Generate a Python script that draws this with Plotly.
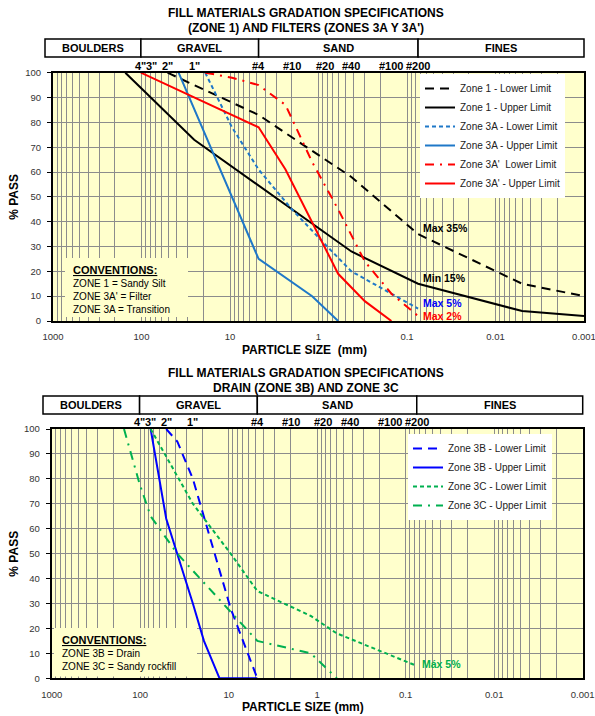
import math
import plotly.graph_objects as go

# ---------------- data ----------------
sieve_labels = ['4"', '3"', '2"', '1"', '#4', '#10', '#20', '#40', '#100', '#200']
sieve_sizes_mm = [101.6, 76.2, 50.8, 25.4, 4.75, 2.0, 0.85, 0.425, 0.15, 0.075]

soil_classes = ['BOULDERS', 'GRAVEL', 'SAND', 'FINES']
class_limits_mm = [101.6, 4.75, 0.075]   # boulders|gravel, gravel|sand, sand|fines

x_tick_vals = [1000, 100, 10, 1, 0.1, 0.01, 0.001]
x_tick_text = ['1000', '100', '10', '1', '0.1', '0.01', '0.001']
y_tick_vals = [0, 10, 20, 30, 40, 50, 60, 70, 80, 90, 100]

# Chart 1 : Zone 1 and filters 3A / 3A'
zone1_lower_size = [50.8, 4.75, 2.0, 0.425, 0.075, 0.005, 0.001]
zone1_lower_pct = [100, 83, 74, 58, 35, 15, 10]
zone1_upper_size = [152.4, 25.4, 0.425, 0.075, 0.005, 0.001]
zone1_upper_pct = [100, 73, 28, 15, 4, 2]
zone3a_lower_size = [19.05, 9.5, 4.75, 2.0, 0.85, 0.425, 0.075]
zone3a_lower_pct = [100, 78, 61, 45, 31, 20, 5]
zone3a_upper_size = [38.1, 4.75, 1.18, 0.6]
zone3a_upper_pct = [100, 25, 10, 0]
zone3ap_lower_size = [19.05, 9.5, 4.75, 2.36, 1.18, 0.6, 0.3, 0.15, 0.075]
zone3ap_lower_pct = [100, 98, 95, 87, 64, 45, 24, 11, 2]
zone3ap_upper_size = [101.6, 4.75, 2.36, 0.6, 0.3, 0.15]
zone3ap_upper_pct = [100, 78, 61, 19, 8, 0]

# Chart 2 : Drain 3B and zone 3C
zone3b_lower_size = [50.8, 38.1, 25.4, 19.05, 12.7, 9.5, 4.75]
zone3b_lower_pct = [100, 95, 80, 65, 44, 28, 0]
zone3b_upper_size = [76.2, 50.8, 25.4, 19.05, 12.7, 4.75]
zone3b_upper_pct = [100, 64, 30, 15, 0, 0]
zone3c_lower_size = [76.2, 50.8, 25.4, 9.5, 4.75, 1.18, 0.6, 0.075]
zone3c_lower_pct = [100, 89, 70, 50, 35, 25, 18, 5]
zone3c_upper_size = [152.4, 101.6, 76.2, 38.1, 4.75, 1.18, 0.6]
zone3c_upper_pct = [100, 78, 65, 50, 15, 10, 0]

# ---------------- layout helpers ----------------
W, H = 595, 716
FONT = "Liberation Sans, Arial, sans-serif"
GRID = "#8c8c8c"
BG = "#FFFFCC"


def px(x):
    return x / W


def py(y):
    return 1 - y / H


# pixel frames of the two plot areas (left, right, top, bottom)
P1 = (53, 584, 72.7, 321)
P2 = (51.7, 582.7, 429, 678.3)


def size_to_px(s, frame):
    l, r = frame[0], frame[1]
    return l + (3 - math.log10(s)) / 6 * (r - l)


minor_vals = [m * 10 ** e for e in range(-3, 3) for m in range(2, 10)]

fig = go.Figure()


def add_line(xs, ys, name, color, dash, width, xa, ya, legend):
    fig.add_trace(go.Scatter(
        x=xs, y=ys, mode="lines", name=name,
        line=dict(color=color, dash=dash, width=width),
        xaxis=xa, yaxis=ya, legend=legend, legendgroup=name,
        hoverinfo="skip"))


BLACK = "#000000"
BLUE3A = "#1F78C8"
RED = "#FF0000"
BLUE3B = "#0000FF"
GREEN = "#00B050"
LONGDASH = "9px,6px"
SHORTDASH = "4px,3px"
DASHDOT = "9px,6px,2px,6px"

add_line(zone1_lower_size, zone1_lower_pct, "Zone 1 - Lower Limit", BLACK, LONGDASH, 2, "x", "y", "legend")
add_line(zone1_upper_size, zone1_upper_pct, "Zone 1 - Upper Limit", BLACK, "solid", 2, "x", "y", "legend")
add_line(zone3a_lower_size, zone3a_lower_pct, "Zone 3A - Lower Limit", BLUE3A, SHORTDASH, 2, "x", "y", "legend")
add_line(zone3a_upper_size, zone3a_upper_pct, "Zone 3A - Upper Limit", BLUE3A, "solid", 2, "x", "y", "legend")
add_line(zone3ap_lower_size, zone3ap_lower_pct, "Zone 3A'  Lower Limit", RED, DASHDOT, 2, "x", "y", "legend")
add_line(zone3ap_upper_size, zone3ap_upper_pct, "Zone 3A' - Upper Limit", RED, "solid", 2, "x", "y", "legend")

add_line(zone3b_lower_size, zone3b_lower_pct, "Zone 3B - Lower Limit", BLUE3B, LONGDASH, 2, "x2", "y2", "legend2")
add_line(zone3b_upper_size, zone3b_upper_pct, "Zone 3B - Upper Limit", BLUE3B, "solid", 2, "x2", "y2", "legend2")
add_line(zone3c_lower_size, zone3c_lower_pct, "Zone 3C - Lower Limit", GREEN, SHORTDASH, 2, "x2", "y2", "legend2")
add_line(zone3c_upper_size, zone3c_upper_pct, "Zone 3C - Upper Limit", GREEN, DASHDOT, 2, "x2", "y2", "legend2")


def xaxis_cfg(frame, anchor):
    return dict(
        type="log", range=[3, -3], domain=[px(frame[0]), px(frame[1])], anchor=anchor,
        tickmode="array", tickvals=x_tick_vals, ticktext=x_tick_text,
        showgrid=True, gridcolor=GRID, gridwidth=1,
        minor=dict(tickmode="array", tickvals=minor_vals, showgrid=True,
                   gridcolor=GRID, gridwidth=1, ticks=""),
        showline=True, linecolor="black", linewidth=2, mirror=True,
        ticks="", ticklabelstandoff=6, automargin=False, ticklabeloverflow="allow",
        tickfont=dict(family=FONT, size=9.5, color="#333333"),
        zeroline=False, fixedrange=True)


def yaxis_cfg(frame, anchor):
    return dict(
        range=[0, 100], domain=[py(frame[3]), py(frame[2])], anchor=anchor,
        tickmode="array", tickvals=y_tick_vals,
        showgrid=True, gridcolor=GRID, gridwidth=1,
        showline=True, linecolor="black", linewidth=2, mirror=True,
        ticks="outside", ticklen=4, tickcolor="black", ticklabelstandoff=4,
        automargin=False, ticklabeloverflow="allow",
        tickfont=dict(family=FONT, size=9.5, color="#333333"),
        zeroline=False, fixedrange=True)


shapes = []
annotations = []


def add_block(frame, xa, ya, title_y, box_top, box_bottom, box_left, sieve_y,
              title_lines, conv_box, conv_lines, title_x_px, x_title):
    # titles
    for i, t in enumerate(title_lines):
        annotations.append(dict(
            text="<b>%s</b>" % t, x=px(title_x_px), y=py(title_y[i]), xref="paper", yref="paper",
            xanchor="center", yanchor="middle", showarrow=False,
            font=dict(family=FONT, size=12, color="black")))
    # header table
    edges = [box_left] + [size_to_px(s, frame) for s in class_limits_mm] + [frame[1]]
    for i, name in enumerate(soil_classes):
        shapes.append(dict(type="rect", xref="paper", yref="paper",
                           x0=px(edges[i]), x1=px(edges[i + 1]),
                           y0=py(box_bottom), y1=py(box_top),
                           line=dict(color="black", width=1.5), fillcolor="white", layer="above"))
        annotations.append(dict(
            text="<b>%s</b>" % name, x=px((edges[i] + edges[i + 1]) / 2),
            y=py((box_top + box_bottom) / 2), xref="paper", yref="paper",
            xanchor="center", yanchor="middle", showarrow=False,
            font=dict(family=FONT, size=11, color="black")))
    # sieve labels
    for lab, s in zip(sieve_labels, sieve_sizes_mm):
        annotations.append(dict(
            text="<b>%s</b>" % lab, x=math.log10(s), y=py(sieve_y), xref=xa, yref="paper",
            xanchor="center", yanchor="middle", showarrow=False,
            font=dict(family=FONT, size=11, color="black")))
    # axis titles
    annotations.append(dict(
        text="<b>%s</b>" % x_title, x=px(240), y=py(frame[3] + 29), xref="paper", yref="paper",
        xanchor="left", yanchor="middle", showarrow=False,
        font=dict(family=FONT, size=12, color="black")))
    annotations.append(dict(
        text="<b>% PASS</b>", x=px(14), y=py((frame[2] + frame[3]) / 2), xref="paper", yref="paper",
        xanchor="center", yanchor="middle", showarrow=False, textangle=-90,
        font=dict(family=FONT, size=12, color="black")))
    # conventions box
    l, t, r, b = conv_box
    shapes.append(dict(type="rect", xref="paper", yref="paper",
                       x0=px(l), x1=px(r), y0=py(b), y1=py(t),
                       line=dict(width=0), fillcolor=BG, layer="above"))
    txt = '<span style="font-size:11px"><b><u>CONVENTIONS:</u></b></span><br>' + "<br>".join(conv_lines)
    annotations.append(dict(
        text=txt, x=px(l + 6), y=py(t + 4), xref="paper", yref="paper",
        xanchor="left", yanchor="top", align="left", showarrow=False,
        font=dict(family=FONT, size=10, color="black")))


add_block(P1, "x", "y", [13, 28], 39, 57, 45, 66,
          ["FILL MATERIALS GRADATION SPECIFICATIONS", "(ZONE 1) AND FILTERS (ZONES 3A Y 3A')"],
          (65, 258, 188, 317),
          ["ZONE 1 = Sandy Silt", "ZONE 3A' = Filter", "ZONE 3A = Transition"], 306,
          "PARTICLE SIZE  (mm)")
add_block(P2, "x2", "y2", [373, 388], 396, 414, 43, 422,
          ["FILL MATERIALS GRADATION SPECIFICATIONS", "DRAIN (ZONE 3B) AND ZONE 3C"],
          (54, 628, 197, 676.5),
          ["ZONE 3B = Drain", "ZONE 3C = Sandy rockfill"], 306,
          "PARTICLE SIZE (mm)")

# limit labels
limit_notes = [
    ("x", "y", "Max 35%", 35, 6, "#000000"),
    ("x", "y", "Min 15%", 15, 6, "#000000"),
    ("x", "y", "Max 5%", 5, 6, "#0000FF"),
    ("x", "y", "Max 2%", 2, 0, "#FF0000"),
    ("x2", "y2", "Máx 5%", 5, 2, GREEN),
]
for xa, ya, txt, val, ys, col in limit_notes:
    annotations.append(dict(
        text="<b>%s</b>" % txt, x=math.log10(0.075), y=val, xref=xa, yref=ya,
        xanchor="left", yanchor="middle", xshift=3, yshift=ys, showarrow=False,
        font=dict(family=FONT, size=10.5, color=col)))

legend_common = dict(
    xanchor="left", yanchor="top", bgcolor="white", borderwidth=0,
    font=dict(family=FONT, size=10, color="#222222"),
    itemwidth=30, tracegroupgap=2, traceorder="normal", itemclick=False, itemdoubleclick=False)

fig.update_layout(
    width=W, height=H, autosize=False,
    margin=dict(l=0, r=0, t=0, b=0, pad=0, autoexpand=False),
    paper_bgcolor="white", plot_bgcolor=BG,
    font=dict(family=FONT),
    showlegend=True,
    xaxis=xaxis_cfg(P1, "y"), yaxis=yaxis_cfg(P1, "x"),
    xaxis2=xaxis_cfg(P2, "y2"), yaxis2=yaxis_cfg(P2, "x2"),
    legend=dict(x=px(420), y=py(74), entrywidth=160, **legend_common),
    legend2=dict(x=px(408), y=py(434), entrywidth=166, **legend_common),
    shapes=shapes, annotations=annotations,
)

fig.write_html("out.html")
